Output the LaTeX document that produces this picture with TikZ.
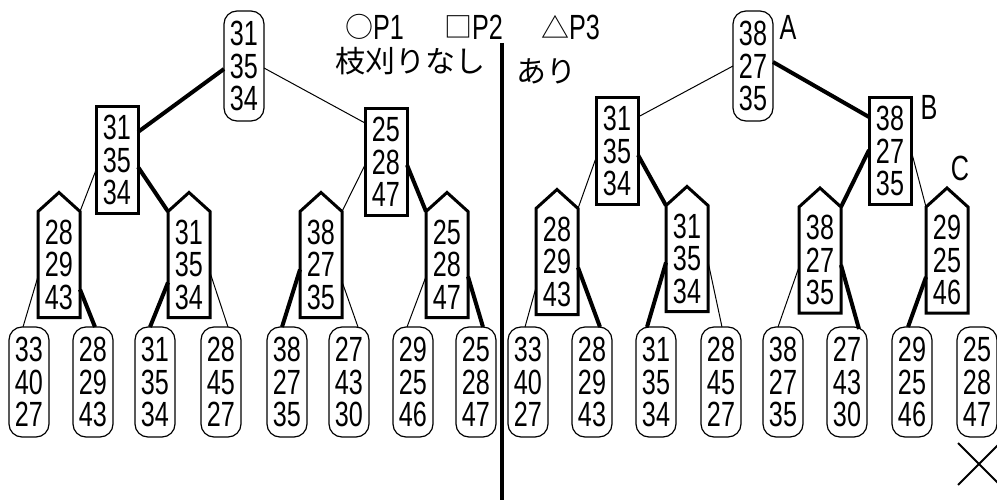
\documentclass[tikz,border=0pt]{standalone}
\usepackage{fontspec}
\newfontfamily\numfont{Liberation Sans}[FakeStretch=0.72]
\newfontfamily\cjk{Noto Sans CJK JP}
\usetikzlibrary{calc}

\tikzset{
  every node/.style={inner sep=0pt, outer sep=0pt},
  val/.style={align=center, font=\numfont\fontsize{35}{32.5}\selectfont},
  pone/.style={val, draw, line width=1.2pt, rounded corners=13pt,
               minimum width=40pt, minimum height=110pt},
  ptwo/.style={val, draw, line width=3pt, minimum width=42pt, minimum height=107pt},
  pthree/.style={val, minimum width=42pt, minimum height=106pt},
  roof/.style={line width=3pt, line join=miter},
  cut/.style={line width=1pt},
  keep/.style={line width=4pt},
  tag/.style={font=\numfont\fontsize{35}{35}\selectfont},
  sym/.style={font=\cjk\fontsize{28}{28}\selectfont},
  jp/.style={font=\cjk\fontsize{30}{30}\selectfont},
}

\begin{document}
\begin{tikzpicture}[x=1pt, y=-1pt]
\useasboundingbox (0,0) rectangle (997,500);

% legend: shape of each player's nodes
\node[sym] (symone)   at (359,27) {○};
\node[tag, anchor=west] (legone)   at (373,27) {P1};
\node[sym] (symtwo)   at (458,27) {□};
\node[tag, anchor=west] (legtwo)   at (472,27) {P2};
\node[sym] (symthree) at (555,27) {△};
\node[tag, anchor=west] (legthree) at (569,27) {P3};

% headings
\node[jp] (nocut) at (410,61) {枝刈りなし};
\node[jp] (withcut) at (546,71) {あり};

% divider between the two searches
\draw[line width=4pt] (502,43) -- (502,500);

% ---------- search without pruning ----------
\node[pone] (lr) at (244,66) {31\\35\\34};
\node[ptwo] (la) at (117,160) {31\\35\\34};
\node[ptwo] (lb) at (386,162) {25\\28\\47};
\node[pthree] (l1) at (59,264.5) {28\\29\\43};
\node[pthree] (l2) at (189,264.5) {31\\35\\34};
\node[pthree] (l3) at (321,264.5) {38\\27\\35};
\node[pthree] (l4) at (447,264.5) {25\\28\\47};
\node[pone] (ll1) at (29,382) {33\\40\\27};
\node[pone] (ll2) at (93,382) {28\\29\\43};
\node[pone] (ll3) at (155,382) {31\\35\\34};
\node[pone] (ll4) at (221,382) {28\\45\\27};
\node[pone] (ll5) at (287,382) {38\\27\\35};
\node[pone] (ll6) at (349,382) {27\\43\\30};
\node[pone] (ll7) at (413,382) {29\\25\\46};
\node[pone] (ll8) at (476,382) {25\\28\\47};

% ---------- search with pruning ----------
\node[pone] (rr) at (753,66) {38\\27\\35};
\node[ptwo] (ra) at (617,151) {31\\35\\34};
\node[ptwo] (rb) at (890,151) {38\\27\\35};
\node[pthree] (r1) at (557,261.5) {28\\29\\43};
\node[pthree] (r2) at (687,258.5) {31\\35\\34};
\node[pthree] (r3) at (820,260) {38\\27\\35};
\node[pthree] (r4) at (947,260) {29\\25\\46};
\node[pone] (rl1) at (528,382) {33\\40\\27};
\node[pone] (rl2) at (592,382) {28\\29\\43};
\node[pone] (rl3) at (656,382) {31\\35\\34};
\node[pone] (rl4) at (721,382) {28\\45\\27};
\node[pone] (rl5) at (783,382) {38\\27\\35};
\node[pone] (rl6) at (847,382) {27\\43\\30};
\node[pone] (rl7) at (912,382) {29\\25\\46};
\node[pone] (rl8) at (977,382) {25\\28\\47};

\node[tag] (lblA) at (788,27) {A};
\node[tag] (lblB) at (929,107) {B};
\node[tag] (lblC) at (960,168) {C};

% P3 nodes: house-shaped outline
\foreach \n in {l1,l2,l3,l4,r1,r2,r3,r4}
  \draw[roof] (\n.south west) -- (\n.north west) -- ($(\n.north)+(0,-19)$)
              -- (\n.north east) -- (\n.south east) -- cycle;

% edges, left search
\draw[keep] ($(lr.west)+(0,3)$) -- ($(la.east)+(0,-28)$);
\draw[cut]  ($(lr.east)+(0,2)$) -- ($(lb.west)+(0,-39)$);
\draw[cut]  ($(la.west)+(0,10)$) -- (l1.north east);
\draw[keep] ($(la.east)+(0,7)$) -- (l2.north west);
\draw[cut]  ($(lb.west)+(0,3)$) -- (l3.north east);
\draw[keep] ($(lb.east)+(0,3)$) -- (l4.north west);
\draw[cut]  ($(l1.west)+(0,12)$) -- ($(ll1.north)+(-6,0)$);
\draw[keep] ($(l1.east)+(0,25)$) -- ($(ll2.north)+(2,0)$);
\draw[keep] ($(l2.west)+(0,18)$) -- ($(ll3.north)+(-5,0)$);
\draw[cut]  ($(l2.east)+(0,8)$) -- ($(ll4.north)+(7,0)$);
\draw[keep] ($(l3.west)+(0,5)$) -- ($(ll5.north)+(-5,0)$);
\draw[cut]  ($(l3.east)+(0,17)$) -- ($(ll6.north)+(9,0)$);
\draw[cut]  ($(l4.west)+(0,12)$) -- ($(ll7.north)+(-6,0)$);
\draw[keep] ($(l4.east)+(0,12)$) -- ($(ll8.north)+(7,0)$);

% edges, right search
\draw[cut]  (rr.west) -- ($(ra.east)+(0,-34)$);
\draw[keep] ($(rr.east)+(0,-4)$) -- ($(rb.west)+(0,-34)$);
\draw[cut]  ($(ra.west)+(0,7)$) -- (r1.north east);
\draw[keep] ($(ra.east)+(0,4)$) -- (r2.north west);
\draw[keep] ($(rb.west)+(0,-1)$) -- (r3.north east);
\draw[cut]  ($(rb.east)+(0,-1)$) -- (r4.north west);
\draw[cut]  ($(r1.west)+(0,26)$) -- ($(rl1.north)+(-3,0)$);
\draw[keep] ($(r1.east)+(0,6)$) -- ($(rl2.north)+(8,0)$);
\draw[keep] ($(r2.west)+(0,4)$) -- ($(rl3.north)+(-9,0)$);
\draw[cut]  ($(r2.east)+(0,3)$) -- ($(rl4.north)+(1,0)$);
\draw[cut]  ($(r3.west)+(0,7)$) -- ($(rl5.north)+(-5,0)$);
\draw[keep] ($(r3.east)+(0,5)$) -- ($(rl6.north)+(12,2)$);
\draw[keep] ($(r4.west)+(0,17)$) -- ($(rl7.north)+(-4,0)$);

% pruned leaf mark
\draw[line width=2pt] (958,443) -- (1000,485) (958,485) -- (1000,443);
\end{tikzpicture}
\end{document}
